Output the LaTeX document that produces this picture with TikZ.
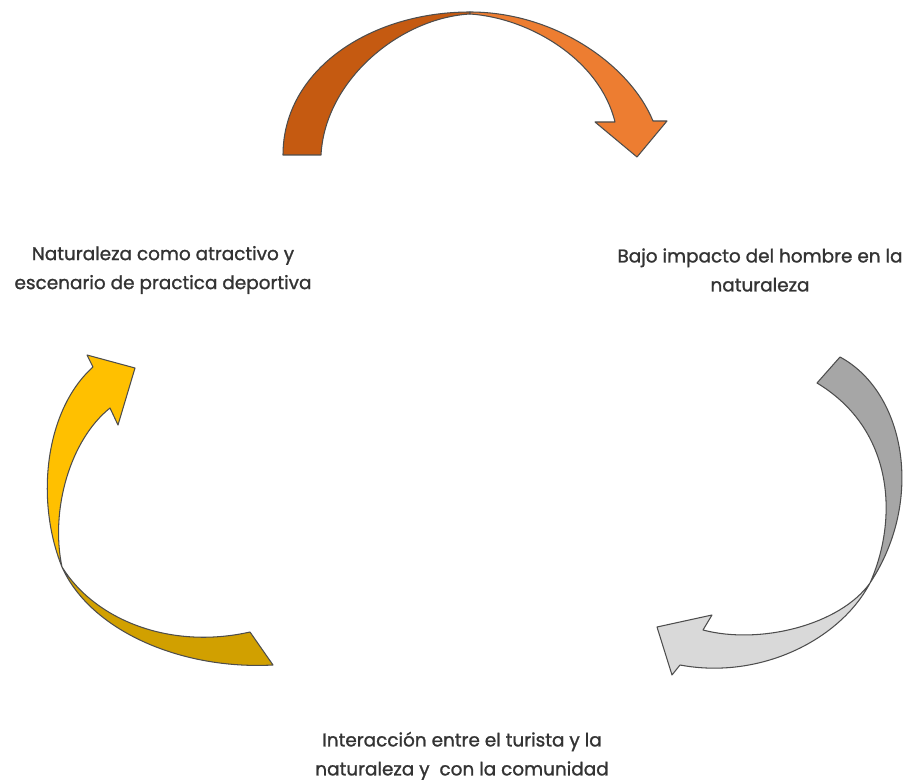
\documentclass[tikz,border=0pt]{standalone}
\usepackage{fontspec}
\setmainfont{Poppins}
\newfontfamily\cyclefont{Poppins}[FakeBold=1.2]
\usepackage{tikz}
\usetikzlibrary{positioning}
\definecolor{orangedark}{HTML}{C55A11}
\definecolor{orangelight}{HTML}{ED7D31}
\definecolor{graydark}{HTML}{A6A6A6}
\definecolor{graylight}{HTML}{D9D9D9}
\definecolor{yellowlight}{HTML}{FFC000}
\definecolor{yellowdark}{HTML}{D1A000}
\definecolor{edgegray}{HTML}{4D4D4D}
\tikzset{
  band/.style={draw=edgegray, line width=0.6pt, line join=round},
  cyclelabel/.style={font=\cyclefont\fontsize{10.5}{16.5}\selectfont, text=black!80,
                     align=center, inner sep=2pt},
}

\begin{document}
\begin{tikzpicture}[x=0.02cm, y=-0.02cm]
        \useasboundingbox (0,0) rectangle (909,780);

        % top arrow
        \draw[band, fill=orangedark] (283,155) .. controls (283,70) and (370,12) .. (470,12)
              -- (470,14) .. controls (400,18) and (325,80) .. (321,155) -- cycle;
        \draw[band, fill=orangelight] (470,12) .. controls (555,12) and (630,65) .. (653,121)
              -- (667,121) -- (637,157) -- (595,122) -- (615,122)
              .. controls (600,60) and (530,18) .. (470,14) -- cycle;

        % right arrow
        \draw[band, fill=graydark] (840,357) .. controls (905,392) and (925,500) .. (870,583)
              .. controls (898,520) and (895,430) .. (817,383) -- cycle;
        \draw[band, fill=graylight] (870,583) .. controls (840,640) and (760,680) .. (680,665)
              -- (672,675) -- (657,627) -- (712,615) -- (703,630)
              .. controls (760,645) and (840,625) .. (870,583) -- cycle;

        % left arrow
        \draw[band, fill=yellowdark] (62,567) .. controls (90,630) and (180,670) .. (273,665)
              -- (250,632) .. controls (170,650) and (95,620) .. (62,567) -- cycle;
        \draw[band, fill=yellowlight] (62,567) .. controls (35,500) and (45,410) .. (93,367)
              -- (87,355) -- (135,368) -- (118,425) -- (110,408)
              .. controls (70,440) and (50,510) .. (62,567) -- cycle;

        \node[cyclelabel] (naturaleza) at (163,270)
              {Naturaleza como atractivo y\\escenario de practica deportiva};
        \node[cyclelabel] (impacto) at (760,270)
              {Bajo impacto del hombre en la\\naturaleza};
        \node[cyclelabel] (interaccion) at (462,756)
              {Interacción entre el turista y la\\naturaleza y \ con la comunidad};
      \end{tikzpicture}
\end{document}
